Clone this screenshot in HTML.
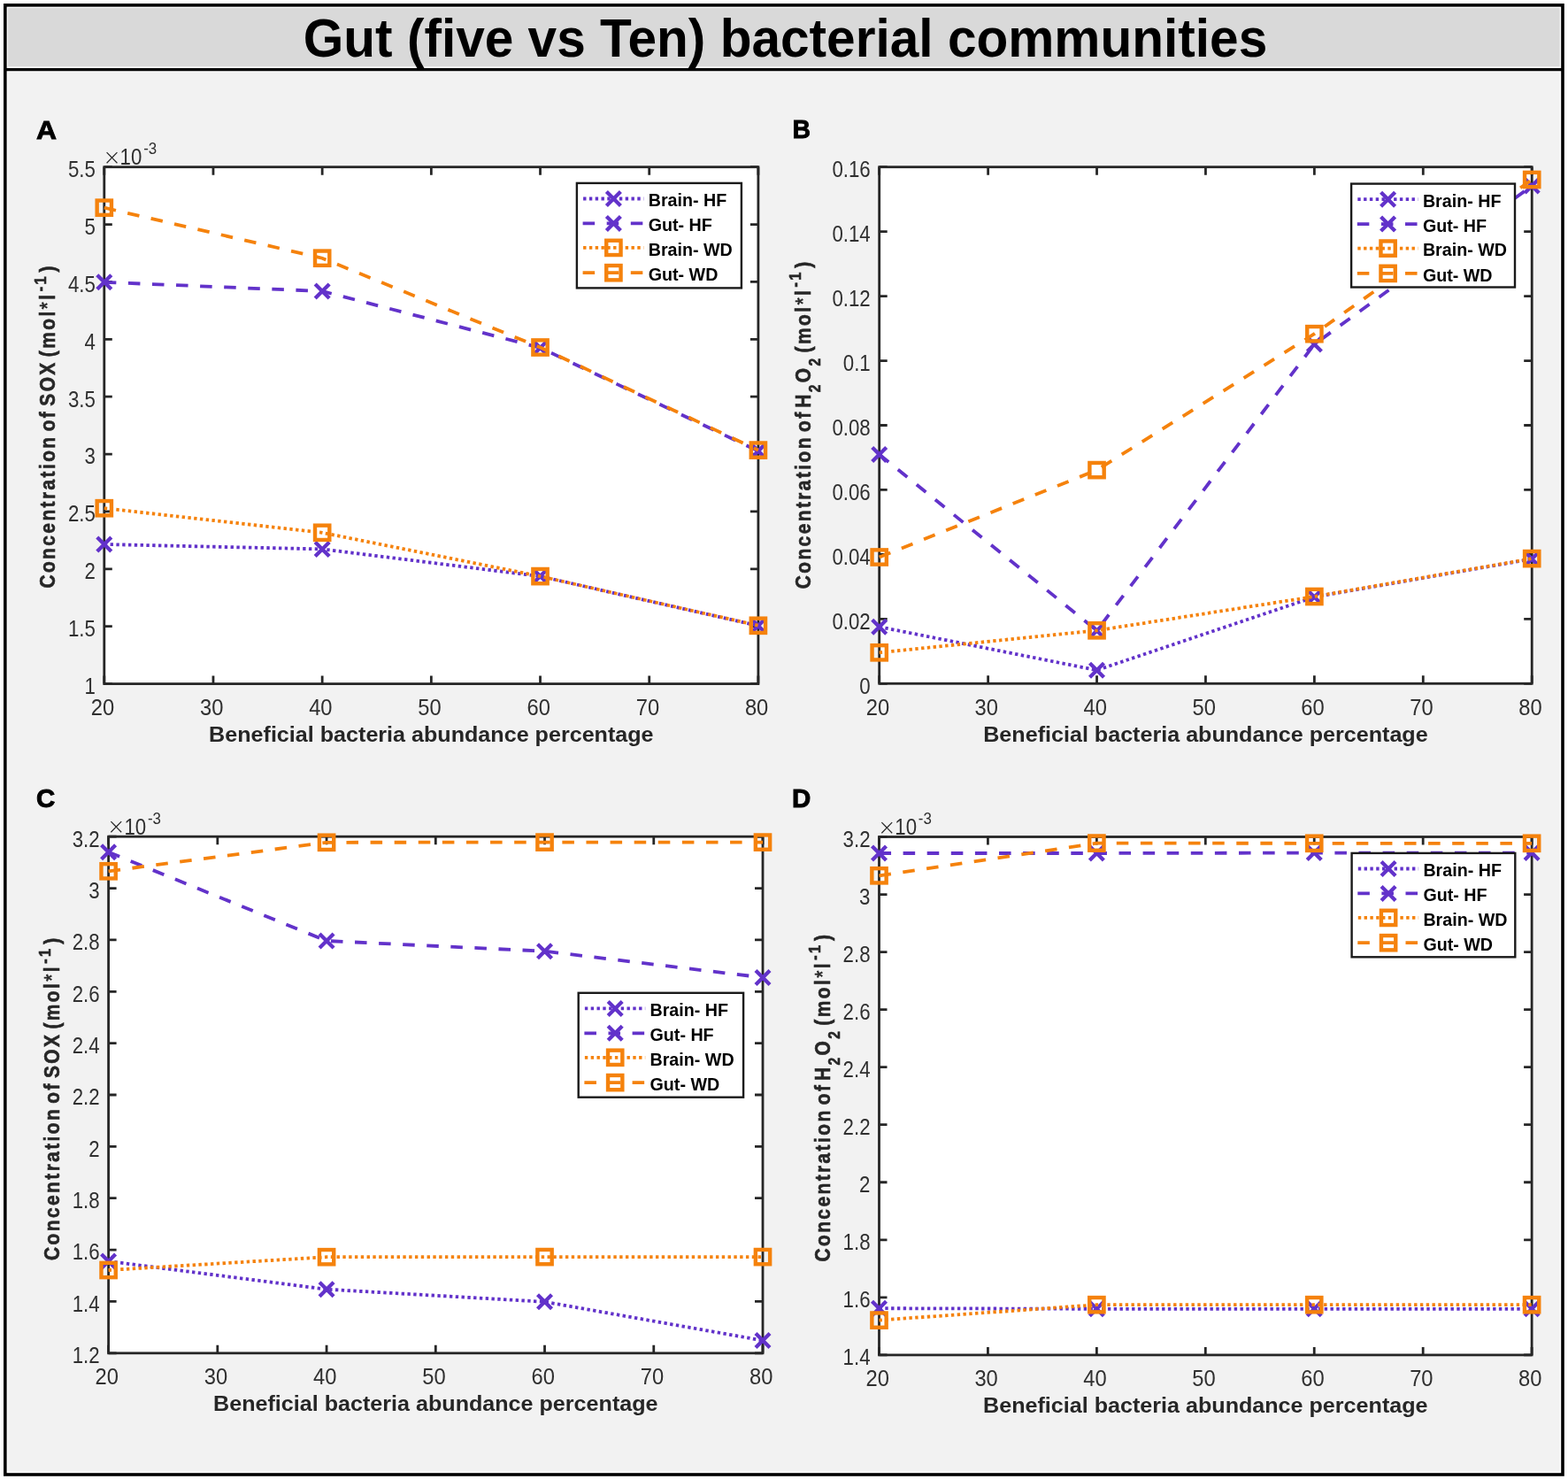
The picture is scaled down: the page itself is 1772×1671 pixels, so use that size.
<!DOCTYPE html>
<html><head><meta charset="utf-8"><title>Gut (five vs Ten) bacterial communities</title>
<style>html,body{margin:0;padding:0;background:#fff;overflow:hidden;}svg{display:block;}</style></head><body>
<svg width="1772" height="1671" viewBox="0 0 1772 1671" font-family="'Liberation Sans', Arial, Helvetica, sans-serif">
<rect width="1772" height="1671" fill="#fff"/>
<rect x="5.8" y="79" width="1760.2" height="1587" fill="#f2f2f2"/>
<rect x="5.8" y="5.8" width="1760.2" height="73" fill="#d9d9d9"/>
<rect x="8.3" y="8.3" width="1755.2" height="67.6" fill="none" stroke="#fff" stroke-width="1.4" opacity="0.85"/>
<rect x="8.3" y="81.1" width="1755.2" height="1582.6" fill="none" stroke="#fff" stroke-width="1.4" opacity="0.85"/>
<text transform="translate(887.5 64.3) scale(0.9606 1)" text-anchor="middle" font-size="61" font-weight="bold" fill="#000">Gut (five vs Ten) bacterial communities</text>
<rect x="117.8" y="188.7" width="739.1" height="583.9" fill="#fff"/>
<path d="M117.8 772.6v-9M117.8 188.7v9M240.98 772.6v-9M240.98 188.7v9M364.17 772.6v-9M364.17 188.7v9M487.35 772.6v-9M487.35 188.7v9M610.53 772.6v-9M610.53 188.7v9M733.72 772.6v-9M733.72 188.7v9M856.9 772.6v-9M856.9 188.7v9M117.8 772.6h9M856.9 772.6h-9M117.8 707.72h9M856.9 707.72h-9M117.8 642.84h9M856.9 642.84h-9M117.8 577.97h9M856.9 577.97h-9M117.8 513.09h9M856.9 513.09h-9M117.8 448.21h9M856.9 448.21h-9M117.8 383.33h9M856.9 383.33h-9M117.8 318.46h9M856.9 318.46h-9M117.8 253.58h9M856.9 253.58h-9M117.8 188.7h9M856.9 188.7h-9" stroke="#262626" stroke-width="2.8" fill="none"/>
<rect x="117.8" y="188.7" width="739.1" height="583.9" stroke="#262626" stroke-width="2.8" fill="none"/>
<path d="M117.8 615L364.17 620.4L610.53 651.1L856.9 707" stroke="#6232ca" stroke-width="3.8" fill="none" stroke-dasharray="3.4 3.4"/>
<path d="M109.8 607L125.8 623M109.8 623L125.8 607" stroke="#6232ca" stroke-width="4.3" fill="none"/>
<path d="M356.17 612.4L372.17 628.4M356.17 628.4L372.17 612.4" stroke="#6232ca" stroke-width="4.3" fill="none"/>
<path d="M602.53 643.1L618.53 659.1M602.53 659.1L618.53 643.1" stroke="#6232ca" stroke-width="4.3" fill="none"/>
<path d="M848.9 699L864.9 715M848.9 715L864.9 699" stroke="#6232ca" stroke-width="4.3" fill="none"/>
<path d="M117.8 318.8L364.17 329L610.53 392.9L856.9 509.6" stroke="#6232ca" stroke-width="3.8" fill="none" stroke-dasharray="13.55 13.55"/>
<path d="M109.8 310.8L125.8 326.8M109.8 326.8L125.8 310.8" stroke="#6232ca" stroke-width="4.3" fill="none"/>
<path d="M356.17 321L372.17 337M356.17 337L372.17 321" stroke="#6232ca" stroke-width="4.3" fill="none"/>
<path d="M602.53 384.9L618.53 400.9M602.53 400.9L618.53 384.9" stroke="#6232ca" stroke-width="4.3" fill="none"/>
<path d="M848.9 501.6L864.9 517.6M848.9 517.6L864.9 501.6" stroke="#6232ca" stroke-width="4.3" fill="none"/>
<path d="M117.8 574.2L364.17 601.8L610.53 651.1L856.9 706.8" stroke="#f5820c" stroke-width="3.8" fill="none" stroke-dasharray="3.4 3.4"/>
<rect x="109.65" y="566.05" width="16.3" height="16.3" stroke="#f5820c" stroke-width="4.4" fill="none"/>
<rect x="356.02" y="593.65" width="16.3" height="16.3" stroke="#f5820c" stroke-width="4.4" fill="none"/>
<rect x="602.38" y="642.95" width="16.3" height="16.3" stroke="#f5820c" stroke-width="4.4" fill="none"/>
<rect x="848.75" y="698.65" width="16.3" height="16.3" stroke="#f5820c" stroke-width="4.4" fill="none"/>
<path d="M117.8 234.7L364.17 291.7L610.53 392.5L856.9 508.6" stroke="#f5820c" stroke-width="3.8" fill="none" stroke-dasharray="13.55 13.55"/>
<rect x="109.65" y="226.55" width="16.3" height="16.3" stroke="#f5820c" stroke-width="4.4" fill="none"/>
<rect x="356.02" y="283.55" width="16.3" height="16.3" stroke="#f5820c" stroke-width="4.4" fill="none"/>
<rect x="602.38" y="384.35" width="16.3" height="16.3" stroke="#f5820c" stroke-width="4.4" fill="none"/>
<rect x="848.75" y="500.45" width="16.3" height="16.3" stroke="#f5820c" stroke-width="4.4" fill="none"/>
<text transform="translate(116 808.1) scale(0.95 1)" text-anchor="middle" font-size="25" font-weight="normal" fill="#303030">20</text>
<text transform="translate(239.18 808.1) scale(0.95 1)" text-anchor="middle" font-size="25" font-weight="normal" fill="#303030">30</text>
<text transform="translate(362.37 808.1) scale(0.95 1)" text-anchor="middle" font-size="25" font-weight="normal" fill="#303030">40</text>
<text transform="translate(485.55 808.1) scale(0.95 1)" text-anchor="middle" font-size="25" font-weight="normal" fill="#303030">50</text>
<text transform="translate(608.73 808.1) scale(0.95 1)" text-anchor="middle" font-size="25" font-weight="normal" fill="#303030">60</text>
<text transform="translate(731.92 808.1) scale(0.95 1)" text-anchor="middle" font-size="25" font-weight="normal" fill="#303030">70</text>
<text transform="translate(855.1 808.1) scale(0.95 1)" text-anchor="middle" font-size="25" font-weight="normal" fill="#303030">80</text>
<text transform="translate(107.8 783.9) scale(0.89 1)" text-anchor="end" font-size="25" font-weight="normal" fill="#303030">1</text>
<text transform="translate(107.8 719.02) scale(0.89 1)" text-anchor="end" font-size="25" font-weight="normal" fill="#303030">1.5</text>
<text transform="translate(107.8 654.14) scale(0.89 1)" text-anchor="end" font-size="25" font-weight="normal" fill="#303030">2</text>
<text transform="translate(107.8 589.27) scale(0.89 1)" text-anchor="end" font-size="25" font-weight="normal" fill="#303030">2.5</text>
<text transform="translate(107.8 524.39) scale(0.89 1)" text-anchor="end" font-size="25" font-weight="normal" fill="#303030">3</text>
<text transform="translate(107.8 459.51) scale(0.89 1)" text-anchor="end" font-size="25" font-weight="normal" fill="#303030">3.5</text>
<text transform="translate(107.8 394.63) scale(0.89 1)" text-anchor="end" font-size="25" font-weight="normal" fill="#303030">4</text>
<text transform="translate(107.8 329.76) scale(0.89 1)" text-anchor="end" font-size="25" font-weight="normal" fill="#303030">4.5</text>
<text transform="translate(107.8 264.88) scale(0.89 1)" text-anchor="end" font-size="25" font-weight="normal" fill="#303030">5</text>
<text transform="translate(107.8 200) scale(0.89 1)" text-anchor="end" font-size="25" font-weight="normal" fill="#303030">5.5</text>
<text x="116.2" y="185.9" font-size="24.5" font-family="DejaVu Sans" font-weight="200" fill="#262626">&#215;</text>
<text transform="translate(135.6 186.2) scale(0.89 1)" text-anchor="start" font-size="25" font-weight="normal" fill="#303030">10<tspan font-size="19" dx="2" dy="-12">-3</tspan></text>
<text transform="translate(487.35 838.1) scale(1.03 1)" text-anchor="middle" font-size="24.4" font-weight="bold" fill="#262626">Beneficial bacteria abundance percentage</text>
<text transform="translate(62 481.35) rotate(-90) scale(0.86 1)" text-anchor="middle" font-size="24.4" font-weight="bold" letter-spacing="2.77" word-spacing="-4.8" fill="#262626" stroke="#262626" stroke-width="0.6">Concentration of SOX (mol<tspan font-weight="normal">*</tspan>l<tspan font-size="19" dx="1.5" dy="-10.5">-1</tspan><tspan dx="3" dy="10.5">)</tspan></text>
<rect x="651.9" y="206.9" width="186" height="118.5" fill="#fff" stroke="#1a1a1a" stroke-width="2.4"/>
<path d="M659.1 224.5H727.4" stroke="#6232ca" stroke-width="3.8" stroke-dasharray="3.4 3.4"/>
<path d="M685.4 216.5L701.4 232.5M685.4 232.5L701.4 216.5" stroke="#6232ca" stroke-width="4.3" fill="none"/>
<text transform="translate(732.7 233.3) scale(1.015 1)" font-size="19.4" font-weight="bold" fill="#000">Brain- HF</text>
<path d="M658.6 252.4H727.4" stroke="#6232ca" stroke-width="3.8" stroke-dasharray="13.55 13.55"/>
<path d="M685.4 244.4L701.4 260.4M685.4 260.4L701.4 244.4" stroke="#6232ca" stroke-width="4.3" fill="none"/>
<text transform="translate(732.7 261.2) scale(1.015 1)" font-size="19.4" font-weight="bold" fill="#000">Gut- HF</text>
<path d="M659.1 279.9H727.4" stroke="#f5820c" stroke-width="3.8" stroke-dasharray="3.4 3.4"/>
<rect x="685.25" y="271.75" width="16.3" height="16.3" stroke="#f5820c" stroke-width="4.4" fill="none"/>
<text transform="translate(732.7 288.7) scale(1.015 1)" font-size="19.4" font-weight="bold" fill="#000">Brain- WD</text>
<path d="M658.6 308.2H727.4" stroke="#f5820c" stroke-width="3.8" stroke-dasharray="13.55 13.55"/>
<rect x="685.25" y="300.05" width="16.3" height="16.3" stroke="#f5820c" stroke-width="4.4" fill="none"/>
<text transform="translate(732.7 317) scale(1.015 1)" font-size="19.4" font-weight="bold" fill="#000">Gut- WD</text>
<text transform="translate(41 156.5) scale(1.08 1)" font-size="29.5" font-weight="bold" fill="#000" stroke="#000" stroke-width="0.9">A</text>
<rect x="993.7" y="188.7" width="737.5" height="583.6" fill="#fff"/>
<path d="M993.7 772.3v-9M993.7 188.7v9M1116.62 772.3v-9M1116.62 188.7v9M1239.53 772.3v-9M1239.53 188.7v9M1362.45 772.3v-9M1362.45 188.7v9M1485.37 772.3v-9M1485.37 188.7v9M1608.28 772.3v-9M1608.28 188.7v9M1731.2 772.3v-9M1731.2 188.7v9M993.7 772.3h9M1731.2 772.3h-9M993.7 699.35h9M1731.2 699.35h-9M993.7 626.4h9M1731.2 626.4h-9M993.7 553.45h9M1731.2 553.45h-9M993.7 480.5h9M1731.2 480.5h-9M993.7 407.55h9M1731.2 407.55h-9M993.7 334.6h9M1731.2 334.6h-9M993.7 261.65h9M1731.2 261.65h-9M993.7 188.7h9M1731.2 188.7h-9" stroke="#262626" stroke-width="2.8" fill="none"/>
<rect x="993.7" y="188.7" width="737.5" height="583.6" stroke="#262626" stroke-width="2.8" fill="none"/>
<path d="M993.7 708.2L1239.53 757.2L1485.37 674.5L1731.2 631.5" stroke="#6232ca" stroke-width="3.8" fill="none" stroke-dasharray="3.4 3.4"/>
<path d="M985.7 700.2L1001.7 716.2M985.7 716.2L1001.7 700.2" stroke="#6232ca" stroke-width="4.3" fill="none"/>
<path d="M1231.53 749.2L1247.53 765.2M1231.53 765.2L1247.53 749.2" stroke="#6232ca" stroke-width="4.3" fill="none"/>
<path d="M1477.37 666.5L1493.37 682.5M1477.37 682.5L1493.37 666.5" stroke="#6232ca" stroke-width="4.3" fill="none"/>
<path d="M1723.2 623.5L1739.2 639.5M1723.2 639.5L1739.2 623.5" stroke="#6232ca" stroke-width="4.3" fill="none"/>
<path d="M993.7 513.4L1239.53 712.4L1485.37 389L1731.2 210" stroke="#6232ca" stroke-width="3.8" fill="none" stroke-dasharray="13.55 13.55"/>
<path d="M985.7 505.4L1001.7 521.4M985.7 521.4L1001.7 505.4" stroke="#6232ca" stroke-width="4.3" fill="none"/>
<path d="M1231.53 704.4L1247.53 720.4M1231.53 720.4L1247.53 704.4" stroke="#6232ca" stroke-width="4.3" fill="none"/>
<path d="M1477.37 381L1493.37 397M1477.37 397L1493.37 381" stroke="#6232ca" stroke-width="4.3" fill="none"/>
<path d="M1723.2 202L1739.2 218M1723.2 218L1739.2 202" stroke="#6232ca" stroke-width="4.3" fill="none"/>
<path d="M993.7 737.3L1239.53 712.3L1485.37 674L1731.2 631.1" stroke="#f5820c" stroke-width="3.8" fill="none" stroke-dasharray="3.4 3.4"/>
<rect x="985.55" y="729.15" width="16.3" height="16.3" stroke="#f5820c" stroke-width="4.4" fill="none"/>
<rect x="1231.38" y="704.15" width="16.3" height="16.3" stroke="#f5820c" stroke-width="4.4" fill="none"/>
<rect x="1477.22" y="665.85" width="16.3" height="16.3" stroke="#f5820c" stroke-width="4.4" fill="none"/>
<rect x="1723.05" y="622.95" width="16.3" height="16.3" stroke="#f5820c" stroke-width="4.4" fill="none"/>
<path d="M993.7 629.5L1239.53 531.1L1485.37 377.2L1731.2 203" stroke="#f5820c" stroke-width="3.8" fill="none" stroke-dasharray="13.55 13.55"/>
<rect x="985.55" y="621.35" width="16.3" height="16.3" stroke="#f5820c" stroke-width="4.4" fill="none"/>
<rect x="1231.38" y="522.95" width="16.3" height="16.3" stroke="#f5820c" stroke-width="4.4" fill="none"/>
<rect x="1477.22" y="369.05" width="16.3" height="16.3" stroke="#f5820c" stroke-width="4.4" fill="none"/>
<rect x="1723.05" y="194.85" width="16.3" height="16.3" stroke="#f5820c" stroke-width="4.4" fill="none"/>
<text transform="translate(991.9 807.8) scale(0.95 1)" text-anchor="middle" font-size="25" font-weight="normal" fill="#303030">20</text>
<text transform="translate(1114.82 807.8) scale(0.95 1)" text-anchor="middle" font-size="25" font-weight="normal" fill="#303030">30</text>
<text transform="translate(1237.73 807.8) scale(0.95 1)" text-anchor="middle" font-size="25" font-weight="normal" fill="#303030">40</text>
<text transform="translate(1360.65 807.8) scale(0.95 1)" text-anchor="middle" font-size="25" font-weight="normal" fill="#303030">50</text>
<text transform="translate(1483.57 807.8) scale(0.95 1)" text-anchor="middle" font-size="25" font-weight="normal" fill="#303030">60</text>
<text transform="translate(1606.48 807.8) scale(0.95 1)" text-anchor="middle" font-size="25" font-weight="normal" fill="#303030">70</text>
<text transform="translate(1729.4 807.8) scale(0.95 1)" text-anchor="middle" font-size="25" font-weight="normal" fill="#303030">80</text>
<text transform="translate(983.7 783.6) scale(0.89 1)" text-anchor="end" font-size="25" font-weight="normal" fill="#303030">0</text>
<text transform="translate(983.7 710.65) scale(0.89 1)" text-anchor="end" font-size="25" font-weight="normal" fill="#303030">0.02</text>
<text transform="translate(983.7 637.7) scale(0.89 1)" text-anchor="end" font-size="25" font-weight="normal" fill="#303030">0.04</text>
<text transform="translate(983.7 564.75) scale(0.89 1)" text-anchor="end" font-size="25" font-weight="normal" fill="#303030">0.06</text>
<text transform="translate(983.7 491.8) scale(0.89 1)" text-anchor="end" font-size="25" font-weight="normal" fill="#303030">0.08</text>
<text transform="translate(983.7 418.85) scale(0.89 1)" text-anchor="end" font-size="25" font-weight="normal" fill="#303030">0.1</text>
<text transform="translate(983.7 345.9) scale(0.89 1)" text-anchor="end" font-size="25" font-weight="normal" fill="#303030">0.12</text>
<text transform="translate(983.7 272.95) scale(0.89 1)" text-anchor="end" font-size="25" font-weight="normal" fill="#303030">0.14</text>
<text transform="translate(983.7 200) scale(0.89 1)" text-anchor="end" font-size="25" font-weight="normal" fill="#303030">0.16</text>
<text transform="translate(1362.45 837.8) scale(1.03 1)" text-anchor="middle" font-size="24.4" font-weight="bold" fill="#262626">Beneficial bacteria abundance percentage</text>
<text transform="translate(915.9 479.3) rotate(-90) scale(0.86 1)" text-anchor="middle" font-size="24.4" font-weight="bold" letter-spacing="2.77" word-spacing="-4.8" fill="#262626" stroke="#262626" stroke-width="0.6">Concentration of <tspan dx="-1.5">H</tspan><tspan font-size="18" dy="11">2</tspan><tspan dy="-11">O</tspan><tspan font-size="18" dy="11">2</tspan><tspan dy="-11"> (mol</tspan><tspan font-weight="normal">*</tspan>l<tspan font-size="19" dx="1.5" dy="-10.5">-1</tspan><tspan dx="3" dy="10.5">)</tspan></text>
<rect x="1527.1" y="207.6" width="184.9" height="116.9" fill="#fff" stroke="#1a1a1a" stroke-width="2.4"/>
<path d="M1534.3 225.2H1602.6" stroke="#6232ca" stroke-width="3.8" stroke-dasharray="3.4 3.4"/>
<path d="M1560.6 217.2L1576.6 233.2M1560.6 233.2L1576.6 217.2" stroke="#6232ca" stroke-width="4.3" fill="none"/>
<text transform="translate(1607.9 234) scale(1.015 1)" font-size="19.4" font-weight="bold" fill="#000">Brain- HF</text>
<path d="M1533.8 253.1H1602.6" stroke="#6232ca" stroke-width="3.8" stroke-dasharray="13.55 13.55"/>
<path d="M1560.6 245.1L1576.6 261.1M1560.6 261.1L1576.6 245.1" stroke="#6232ca" stroke-width="4.3" fill="none"/>
<text transform="translate(1607.9 261.9) scale(1.015 1)" font-size="19.4" font-weight="bold" fill="#000">Gut- HF</text>
<path d="M1534.3 280.6H1602.6" stroke="#f5820c" stroke-width="3.8" stroke-dasharray="3.4 3.4"/>
<rect x="1560.45" y="272.45" width="16.3" height="16.3" stroke="#f5820c" stroke-width="4.4" fill="none"/>
<text transform="translate(1607.9 289.4) scale(1.015 1)" font-size="19.4" font-weight="bold" fill="#000">Brain- WD</text>
<path d="M1533.8 308.9H1602.6" stroke="#f5820c" stroke-width="3.8" stroke-dasharray="13.55 13.55"/>
<rect x="1560.45" y="300.75" width="16.3" height="16.3" stroke="#f5820c" stroke-width="4.4" fill="none"/>
<text transform="translate(1607.9 317.7) scale(1.015 1)" font-size="19.4" font-weight="bold" fill="#000">Gut- WD</text>
<text transform="translate(895.4 156.3) scale(0.96 1)" font-size="29.5" font-weight="bold" fill="#000" stroke="#000" stroke-width="0.9">B</text>
<rect x="122.6" y="945.2" width="739.4" height="583.6" fill="#fff"/>
<path d="M122.6 1528.8v-9M122.6 945.2v9M245.83 1528.8v-9M245.83 945.2v9M369.07 1528.8v-9M369.07 945.2v9M492.3 1528.8v-9M492.3 945.2v9M615.53 1528.8v-9M615.53 945.2v9M738.77 1528.8v-9M738.77 945.2v9M862 1528.8v-9M862 945.2v9M122.6 1528.8h9M862 1528.8h-9M122.6 1470.44h9M862 1470.44h-9M122.6 1412.08h9M862 1412.08h-9M122.6 1353.72h9M862 1353.72h-9M122.6 1295.36h9M862 1295.36h-9M122.6 1237h9M862 1237h-9M122.6 1178.64h9M862 1178.64h-9M122.6 1120.28h9M862 1120.28h-9M122.6 1061.92h9M862 1061.92h-9M122.6 1003.56h9M862 1003.56h-9M122.6 945.2h9M862 945.2h-9" stroke="#262626" stroke-width="2.8" fill="none"/>
<rect x="122.6" y="945.2" width="739.4" height="583.6" stroke="#262626" stroke-width="2.8" fill="none"/>
<path d="M122.6 1425L369.07 1456.7L615.53 1470.8L862 1514.5" stroke="#6232ca" stroke-width="3.8" fill="none" stroke-dasharray="3.4 3.4"/>
<path d="M114.6 1417L130.6 1433M114.6 1433L130.6 1417" stroke="#6232ca" stroke-width="4.3" fill="none"/>
<path d="M361.07 1448.7L377.07 1464.7M361.07 1464.7L377.07 1448.7" stroke="#6232ca" stroke-width="4.3" fill="none"/>
<path d="M607.53 1462.8L623.53 1478.8M607.53 1478.8L623.53 1462.8" stroke="#6232ca" stroke-width="4.3" fill="none"/>
<path d="M854 1506.5L870 1522.5M854 1522.5L870 1506.5" stroke="#6232ca" stroke-width="4.3" fill="none"/>
<path d="M122.6 962.7L369.07 1063L615.53 1074.7L862 1104.4" stroke="#6232ca" stroke-width="3.8" fill="none" stroke-dasharray="13.55 13.55"/>
<path d="M114.6 954.7L130.6 970.7M114.6 970.7L130.6 954.7" stroke="#6232ca" stroke-width="4.3" fill="none"/>
<path d="M361.07 1055L377.07 1071M361.07 1071L377.07 1055" stroke="#6232ca" stroke-width="4.3" fill="none"/>
<path d="M607.53 1066.7L623.53 1082.7M607.53 1082.7L623.53 1066.7" stroke="#6232ca" stroke-width="4.3" fill="none"/>
<path d="M854 1096.4L870 1112.4M854 1112.4L870 1096.4" stroke="#6232ca" stroke-width="4.3" fill="none"/>
<path d="M122.6 1435L369.07 1420.2L615.53 1420.1L862 1420.1" stroke="#f5820c" stroke-width="3.8" fill="none" stroke-dasharray="3.4 3.4"/>
<rect x="114.45" y="1426.85" width="16.3" height="16.3" stroke="#f5820c" stroke-width="4.4" fill="none"/>
<rect x="360.92" y="1412.05" width="16.3" height="16.3" stroke="#f5820c" stroke-width="4.4" fill="none"/>
<rect x="607.38" y="1411.95" width="16.3" height="16.3" stroke="#f5820c" stroke-width="4.4" fill="none"/>
<rect x="853.85" y="1411.95" width="16.3" height="16.3" stroke="#f5820c" stroke-width="4.4" fill="none"/>
<path d="M122.6 984.3L369.07 951.8L615.53 951.6L862 951.6" stroke="#f5820c" stroke-width="3.8" fill="none" stroke-dasharray="13.55 13.55"/>
<rect x="114.45" y="976.15" width="16.3" height="16.3" stroke="#f5820c" stroke-width="4.4" fill="none"/>
<rect x="360.92" y="943.65" width="16.3" height="16.3" stroke="#f5820c" stroke-width="4.4" fill="none"/>
<rect x="607.38" y="943.45" width="16.3" height="16.3" stroke="#f5820c" stroke-width="4.4" fill="none"/>
<rect x="853.85" y="943.45" width="16.3" height="16.3" stroke="#f5820c" stroke-width="4.4" fill="none"/>
<text transform="translate(120.8 1564.3) scale(0.95 1)" text-anchor="middle" font-size="25" font-weight="normal" fill="#303030">20</text>
<text transform="translate(244.03 1564.3) scale(0.95 1)" text-anchor="middle" font-size="25" font-weight="normal" fill="#303030">30</text>
<text transform="translate(367.27 1564.3) scale(0.95 1)" text-anchor="middle" font-size="25" font-weight="normal" fill="#303030">40</text>
<text transform="translate(490.5 1564.3) scale(0.95 1)" text-anchor="middle" font-size="25" font-weight="normal" fill="#303030">50</text>
<text transform="translate(613.73 1564.3) scale(0.95 1)" text-anchor="middle" font-size="25" font-weight="normal" fill="#303030">60</text>
<text transform="translate(736.97 1564.3) scale(0.95 1)" text-anchor="middle" font-size="25" font-weight="normal" fill="#303030">70</text>
<text transform="translate(860.2 1564.3) scale(0.95 1)" text-anchor="middle" font-size="25" font-weight="normal" fill="#303030">80</text>
<text transform="translate(112.6 1540.1) scale(0.89 1)" text-anchor="end" font-size="25" font-weight="normal" fill="#303030">1.2</text>
<text transform="translate(112.6 1481.74) scale(0.89 1)" text-anchor="end" font-size="25" font-weight="normal" fill="#303030">1.4</text>
<text transform="translate(112.6 1423.38) scale(0.89 1)" text-anchor="end" font-size="25" font-weight="normal" fill="#303030">1.6</text>
<text transform="translate(112.6 1365.02) scale(0.89 1)" text-anchor="end" font-size="25" font-weight="normal" fill="#303030">1.8</text>
<text transform="translate(112.6 1306.66) scale(0.89 1)" text-anchor="end" font-size="25" font-weight="normal" fill="#303030">2</text>
<text transform="translate(112.6 1248.3) scale(0.89 1)" text-anchor="end" font-size="25" font-weight="normal" fill="#303030">2.2</text>
<text transform="translate(112.6 1189.94) scale(0.89 1)" text-anchor="end" font-size="25" font-weight="normal" fill="#303030">2.4</text>
<text transform="translate(112.6 1131.58) scale(0.89 1)" text-anchor="end" font-size="25" font-weight="normal" fill="#303030">2.6</text>
<text transform="translate(112.6 1073.22) scale(0.89 1)" text-anchor="end" font-size="25" font-weight="normal" fill="#303030">2.8</text>
<text transform="translate(112.6 1014.86) scale(0.89 1)" text-anchor="end" font-size="25" font-weight="normal" fill="#303030">3</text>
<text transform="translate(112.6 956.5) scale(0.89 1)" text-anchor="end" font-size="25" font-weight="normal" fill="#303030">3.2</text>
<text x="121" y="942.4" font-size="24.5" font-family="DejaVu Sans" font-weight="200" fill="#262626">&#215;</text>
<text transform="translate(140.4 942.7) scale(0.89 1)" text-anchor="start" font-size="25" font-weight="normal" fill="#303030">10<tspan font-size="19" dx="2" dy="-12">-3</tspan></text>
<text transform="translate(492.3 1594.3) scale(1.03 1)" text-anchor="middle" font-size="24.4" font-weight="bold" fill="#262626">Beneficial bacteria abundance percentage</text>
<text transform="translate(67 1240.7) rotate(-90) scale(0.86 1)" text-anchor="middle" font-size="24.4" font-weight="bold" letter-spacing="2.77" word-spacing="-4.8" fill="#262626" stroke="#262626" stroke-width="0.6">Concentration of SOX (mol<tspan font-weight="normal">*</tspan>l<tspan font-size="19" dx="1.5" dy="-10.5">-1</tspan><tspan dx="3" dy="10.5">)</tspan></text>
<rect x="653.7" y="1121.8" width="186.4" height="117.9" fill="#fff" stroke="#1a1a1a" stroke-width="2.4"/>
<path d="M660.9 1139.4H729.2" stroke="#6232ca" stroke-width="3.8" stroke-dasharray="3.4 3.4"/>
<path d="M687.2 1131.4L703.2 1147.4M687.2 1147.4L703.2 1131.4" stroke="#6232ca" stroke-width="4.3" fill="none"/>
<text transform="translate(734.5 1148.2) scale(1.015 1)" font-size="19.4" font-weight="bold" fill="#000">Brain- HF</text>
<path d="M660.4 1167.3H729.2" stroke="#6232ca" stroke-width="3.8" stroke-dasharray="13.55 13.55"/>
<path d="M687.2 1159.3L703.2 1175.3M687.2 1175.3L703.2 1159.3" stroke="#6232ca" stroke-width="4.3" fill="none"/>
<text transform="translate(734.5 1176.1) scale(1.015 1)" font-size="19.4" font-weight="bold" fill="#000">Gut- HF</text>
<path d="M660.9 1194.8H729.2" stroke="#f5820c" stroke-width="3.8" stroke-dasharray="3.4 3.4"/>
<rect x="687.05" y="1186.65" width="16.3" height="16.3" stroke="#f5820c" stroke-width="4.4" fill="none"/>
<text transform="translate(734.5 1203.6) scale(1.015 1)" font-size="19.4" font-weight="bold" fill="#000">Brain- WD</text>
<path d="M660.4 1223.1H729.2" stroke="#f5820c" stroke-width="3.8" stroke-dasharray="13.55 13.55"/>
<rect x="687.05" y="1214.95" width="16.3" height="16.3" stroke="#f5820c" stroke-width="4.4" fill="none"/>
<text transform="translate(734.5 1231.9) scale(1.015 1)" font-size="19.4" font-weight="bold" fill="#000">Gut- WD</text>
<text transform="translate(41 911.6) scale(1 1)" font-size="29.5" font-weight="bold" fill="#000" stroke="#000" stroke-width="0.9">C</text>
<rect x="993.5" y="945.5" width="737.6" height="585.4" fill="#fff"/>
<path d="M993.5 1530.9v-9M993.5 945.5v9M1116.43 1530.9v-9M1116.43 945.5v9M1239.37 1530.9v-9M1239.37 945.5v9M1362.3 1530.9v-9M1362.3 945.5v9M1485.23 1530.9v-9M1485.23 945.5v9M1608.17 1530.9v-9M1608.17 945.5v9M1731.1 1530.9v-9M1731.1 945.5v9M993.5 1530.9h9M1731.1 1530.9h-9M993.5 1465.86h9M1731.1 1465.86h-9M993.5 1400.81h9M1731.1 1400.81h-9M993.5 1335.77h9M1731.1 1335.77h-9M993.5 1270.72h9M1731.1 1270.72h-9M993.5 1205.68h9M1731.1 1205.68h-9M993.5 1140.63h9M1731.1 1140.63h-9M993.5 1075.59h9M1731.1 1075.59h-9M993.5 1010.54h9M1731.1 1010.54h-9M993.5 945.5h9M1731.1 945.5h-9" stroke="#262626" stroke-width="2.8" fill="none"/>
<rect x="993.5" y="945.5" width="737.6" height="585.4" stroke="#262626" stroke-width="2.8" fill="none"/>
<path d="M993.5 1478.2L1239.37 1478.8L1485.23 1478.8L1731.1 1478.8" stroke="#6232ca" stroke-width="3.8" fill="none" stroke-dasharray="3.4 3.4"/>
<path d="M985.5 1470.2L1001.5 1486.2M985.5 1486.2L1001.5 1470.2" stroke="#6232ca" stroke-width="4.3" fill="none"/>
<path d="M1231.37 1470.8L1247.37 1486.8M1231.37 1486.8L1247.37 1470.8" stroke="#6232ca" stroke-width="4.3" fill="none"/>
<path d="M1477.23 1470.8L1493.23 1486.8M1477.23 1486.8L1493.23 1470.8" stroke="#6232ca" stroke-width="4.3" fill="none"/>
<path d="M1723.1 1470.8L1739.1 1486.8M1723.1 1486.8L1739.1 1470.8" stroke="#6232ca" stroke-width="4.3" fill="none"/>
<path d="M993.5 964L1239.37 964L1485.23 963.6L1731.1 963.6" stroke="#6232ca" stroke-width="3.8" fill="none" stroke-dasharray="13.55 13.55"/>
<path d="M985.5 956L1001.5 972M985.5 972L1001.5 956" stroke="#6232ca" stroke-width="4.3" fill="none"/>
<path d="M1231.37 956L1247.37 972M1231.37 972L1247.37 956" stroke="#6232ca" stroke-width="4.3" fill="none"/>
<path d="M1477.23 955.6L1493.23 971.6M1477.23 971.6L1493.23 955.6" stroke="#6232ca" stroke-width="4.3" fill="none"/>
<path d="M1723.1 955.6L1739.1 971.6M1723.1 971.6L1739.1 955.6" stroke="#6232ca" stroke-width="4.3" fill="none"/>
<path d="M993.5 1491.6L1239.37 1474.2L1485.23 1474.2L1731.1 1474.2" stroke="#f5820c" stroke-width="3.8" fill="none" stroke-dasharray="3.4 3.4"/>
<rect x="985.35" y="1483.45" width="16.3" height="16.3" stroke="#f5820c" stroke-width="4.4" fill="none"/>
<rect x="1231.22" y="1466.05" width="16.3" height="16.3" stroke="#f5820c" stroke-width="4.4" fill="none"/>
<rect x="1477.08" y="1466.05" width="16.3" height="16.3" stroke="#f5820c" stroke-width="4.4" fill="none"/>
<rect x="1722.95" y="1466.05" width="16.3" height="16.3" stroke="#f5820c" stroke-width="4.4" fill="none"/>
<path d="M993.5 989.3L1239.37 952.6L1485.23 952.8L1731.1 952.8" stroke="#f5820c" stroke-width="3.8" fill="none" stroke-dasharray="13.55 13.55"/>
<rect x="985.35" y="981.15" width="16.3" height="16.3" stroke="#f5820c" stroke-width="4.4" fill="none"/>
<rect x="1231.22" y="944.45" width="16.3" height="16.3" stroke="#f5820c" stroke-width="4.4" fill="none"/>
<rect x="1477.08" y="944.65" width="16.3" height="16.3" stroke="#f5820c" stroke-width="4.4" fill="none"/>
<rect x="1722.95" y="944.65" width="16.3" height="16.3" stroke="#f5820c" stroke-width="4.4" fill="none"/>
<text transform="translate(991.7 1566.4) scale(0.95 1)" text-anchor="middle" font-size="25" font-weight="normal" fill="#303030">20</text>
<text transform="translate(1114.63 1566.4) scale(0.95 1)" text-anchor="middle" font-size="25" font-weight="normal" fill="#303030">30</text>
<text transform="translate(1237.57 1566.4) scale(0.95 1)" text-anchor="middle" font-size="25" font-weight="normal" fill="#303030">40</text>
<text transform="translate(1360.5 1566.4) scale(0.95 1)" text-anchor="middle" font-size="25" font-weight="normal" fill="#303030">50</text>
<text transform="translate(1483.43 1566.4) scale(0.95 1)" text-anchor="middle" font-size="25" font-weight="normal" fill="#303030">60</text>
<text transform="translate(1606.37 1566.4) scale(0.95 1)" text-anchor="middle" font-size="25" font-weight="normal" fill="#303030">70</text>
<text transform="translate(1729.3 1566.4) scale(0.95 1)" text-anchor="middle" font-size="25" font-weight="normal" fill="#303030">80</text>
<text transform="translate(983.5 1542.2) scale(0.89 1)" text-anchor="end" font-size="25" font-weight="normal" fill="#303030">1.4</text>
<text transform="translate(983.5 1477.16) scale(0.89 1)" text-anchor="end" font-size="25" font-weight="normal" fill="#303030">1.6</text>
<text transform="translate(983.5 1412.11) scale(0.89 1)" text-anchor="end" font-size="25" font-weight="normal" fill="#303030">1.8</text>
<text transform="translate(983.5 1347.07) scale(0.89 1)" text-anchor="end" font-size="25" font-weight="normal" fill="#303030">2</text>
<text transform="translate(983.5 1282.02) scale(0.89 1)" text-anchor="end" font-size="25" font-weight="normal" fill="#303030">2.2</text>
<text transform="translate(983.5 1216.98) scale(0.89 1)" text-anchor="end" font-size="25" font-weight="normal" fill="#303030">2.4</text>
<text transform="translate(983.5 1151.93) scale(0.89 1)" text-anchor="end" font-size="25" font-weight="normal" fill="#303030">2.6</text>
<text transform="translate(983.5 1086.89) scale(0.89 1)" text-anchor="end" font-size="25" font-weight="normal" fill="#303030">2.8</text>
<text transform="translate(983.5 1021.84) scale(0.89 1)" text-anchor="end" font-size="25" font-weight="normal" fill="#303030">3</text>
<text transform="translate(983.5 956.8) scale(0.89 1)" text-anchor="end" font-size="25" font-weight="normal" fill="#303030">3.2</text>
<text x="991.9" y="942.7" font-size="24.5" font-family="DejaVu Sans" font-weight="200" fill="#262626">&#215;</text>
<text transform="translate(1011.3 943) scale(0.89 1)" text-anchor="start" font-size="25" font-weight="normal" fill="#303030">10<tspan font-size="19" dx="2" dy="-12">-3</tspan></text>
<text transform="translate(1362.3 1596.4) scale(1.03 1)" text-anchor="middle" font-size="24.4" font-weight="bold" fill="#262626">Beneficial bacteria abundance percentage</text>
<text transform="translate(937.8 1239.55) rotate(-90) scale(0.86 1)" text-anchor="middle" font-size="24.4" font-weight="bold" letter-spacing="2.77" word-spacing="-4.8" fill="#262626" stroke="#262626" stroke-width="0.6">Concentration of <tspan dx="-1.5">H</tspan><tspan font-size="18" dy="11">2</tspan><tspan dy="-11">O</tspan><tspan font-size="18" dy="11">2</tspan><tspan dy="-11"> (mol</tspan><tspan font-weight="normal">*</tspan>l<tspan font-size="19" dx="1.5" dy="-10.5">-1</tspan><tspan dx="3" dy="10.5">)</tspan></text>
<rect x="1527.6" y="963.9" width="184.7" height="117.4" fill="#fff" stroke="#1a1a1a" stroke-width="2.4"/>
<path d="M1534.8 981.5H1603.1" stroke="#6232ca" stroke-width="3.8" stroke-dasharray="3.4 3.4"/>
<path d="M1561.1 973.5L1577.1 989.5M1561.1 989.5L1577.1 973.5" stroke="#6232ca" stroke-width="4.3" fill="none"/>
<text transform="translate(1608.4 990.3) scale(1.015 1)" font-size="19.4" font-weight="bold" fill="#000">Brain- HF</text>
<path d="M1534.3 1009.4H1603.1" stroke="#6232ca" stroke-width="3.8" stroke-dasharray="13.55 13.55"/>
<path d="M1561.1 1001.4L1577.1 1017.4M1561.1 1017.4L1577.1 1001.4" stroke="#6232ca" stroke-width="4.3" fill="none"/>
<text transform="translate(1608.4 1018.2) scale(1.015 1)" font-size="19.4" font-weight="bold" fill="#000">Gut- HF</text>
<path d="M1534.8 1036.9H1603.1" stroke="#f5820c" stroke-width="3.8" stroke-dasharray="3.4 3.4"/>
<rect x="1560.95" y="1028.75" width="16.3" height="16.3" stroke="#f5820c" stroke-width="4.4" fill="none"/>
<text transform="translate(1608.4 1045.7) scale(1.015 1)" font-size="19.4" font-weight="bold" fill="#000">Brain- WD</text>
<path d="M1534.3 1065.2H1603.1" stroke="#f5820c" stroke-width="3.8" stroke-dasharray="13.55 13.55"/>
<rect x="1560.95" y="1057.05" width="16.3" height="16.3" stroke="#f5820c" stroke-width="4.4" fill="none"/>
<text transform="translate(1608.4 1074) scale(1.015 1)" font-size="19.4" font-weight="bold" fill="#000">Gut- WD</text>
<text transform="translate(895.1 911.6) scale(1 1)" font-size="29.5" font-weight="bold" fill="#000" stroke="#000" stroke-width="0.9">D</text>
<rect x="5.8" y="5.8" width="1760.2" height="1660.2" fill="none" stroke="#000" stroke-width="3.6"/>
<path d="M5.8 78.6H1766" stroke="#000" stroke-width="3.4"/>
</svg></body></html>
